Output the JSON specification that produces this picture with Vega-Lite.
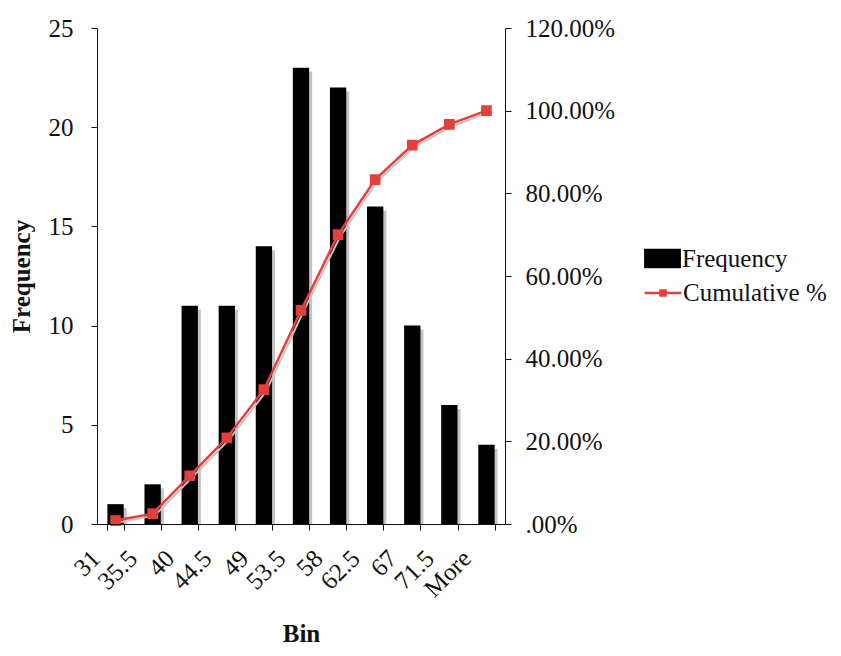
{
  "$schema": "https://vega.github.io/schema/vega-lite/v6.json",
  "autosize": {"type": "none"},
  "width": 408,
  "height": 496,
  "padding": {"left": 97, "top": 28, "right": 336, "bottom": 132},
  "background": "white",
  "config": {
    "font": "Liberation Serif",
    "view": {"stroke": null},
    "axis": {
      "labelFont": "Liberation Serif",
      "titleFont": "Liberation Serif",
      "labelFontSize": 25,
      "titleFontSize": 25,
      "labelColor": "#111",
      "titleColor": "#111",
      "domainColor": "#111",
      "tickColor": "#111",
      "grid": false,
      "tickSize": 6
    },
    "legend": {"labelFont": "Liberation Serif", "labelFontSize": 25, "labelColor": "#111"}
  },
  "data": {
    "values": [
      {"bin": "31", "freq": 1, "cum": 0.00833},
      {"bin": "35.5", "freq": 2, "cum": 0.025},
      {"bin": "40", "freq": 11, "cum": 0.11667},
      {"bin": "44.5", "freq": 11, "cum": 0.20833},
      {"bin": "49", "freq": 14, "cum": 0.325},
      {"bin": "53.5", "freq": 23, "cum": 0.51667},
      {"bin": "58", "freq": 22, "cum": 0.7},
      {"bin": "62.5", "freq": 16, "cum": 0.83333},
      {"bin": "67", "freq": 10, "cum": 0.91667},
      {"bin": "71.5", "freq": 6, "cum": 0.96667},
      {"bin": "More", "freq": 4, "cum": 1.0}
    ]
  },
  "encoding": {
    "x": {
      "field": "bin",
      "type": "ordinal",
      "sort": null,
      "scale": {"paddingInner": 0.56, "paddingOuter": 0.28},
      "axis": {
        "title": "Bin",
        "titleFontWeight": "bold",
        "titlePadding": 20,
        "labelAngle": -45,
        "labelAlign": "right",
        "labelBaseline": "middle",
        "labelOffset": -20,
        "labelPadding": 24,
        "tickBand": "extent",
        "zindex": 1
      }
    }
  },
  "layer": [
    {
      "mark": {"type": "bar", "color": "#c4c4c4", "xOffset": 3, "yOffset": 4, "clip": true},
      "encoding": {
        "y": {"field": "freq", "type": "quantitative", "scale": {"domain": [0, 25]}, "axis": null}
      }
    },
    {
      "mark": {"type": "bar"},
      "encoding": {
        "y": {
          "field": "freq",
          "type": "quantitative",
          "scale": {"domain": [0, 25]},
          "axis": {
            "title": "Frequency",
            "titleFontWeight": "bold",
            "values": [0, 5, 10, 15, 20, 25],
            "labelPadding": 18,
            "titlePadding": 14
          }
        },
        "fill": {
          "datum": "Frequency",
          "type": "nominal",
          "scale": {"range": ["black"]},
          "legend": {
            "title": null,
            "orient": "none",
            "legendX": 553,
            "legendY": 218,
            "symbolType": "M-1.6,-0.85L1.6,-0.85L1.6,0.85L-1.6,0.85Z",
            "symbolSize": 530,
            "labelOffset": 7
          }
        }
      }
    },
    {
      "mark": {"type": "line", "color": "#c4c4c4", "strokeWidth": 2, "xOffset": 2, "yOffset": 2},
      "encoding": {
        "y": {"field": "cum", "type": "quantitative", "scale": {"domain": [0, 1.2]}, "axis": null}
      }
    },
    {
      "mark": {"type": "line", "strokeWidth": 2.5, "point": {"shape": "square", "size": 75, "filled": true, "color": "#e2403e"}},
      "encoding": {
        "y": {
          "field": "cum",
          "type": "quantitative",
          "scale": {"domain": [0, 1.2]},
          "axis": {
            "orient": "right",
            "title": null,
            "values": [0, 0.2, 0.4, 0.6, 0.8, 1.0, 1.2],
            "labelExpr": "datum.value == 0 ? '.00%' : format(datum.value, '.2%')",
            "labelPadding": 14
          }
        },
        "stroke": {
          "datum": "Cumulative %",
          "type": "nominal",
          "scale": {"range": ["#e2403e"]},
          "legend": {
            "title": null,
            "orient": "none",
            "legendX": 553,
            "legendY": 252,
            "symbolType": "M-1.6,0L1.6,0M-0.22,-0.22L0.22,-0.22L0.22,0.22L-0.22,0.22Z",
            "symbolSize": 530,
            "symbolStrokeWidth": 2.5,
            "symbolFillColor": "#e2403e",
            "labelOffset": 7
          }
        }
      }
    }
  ],
  "resolve": {"scale": {"y": "independent"}}
}
